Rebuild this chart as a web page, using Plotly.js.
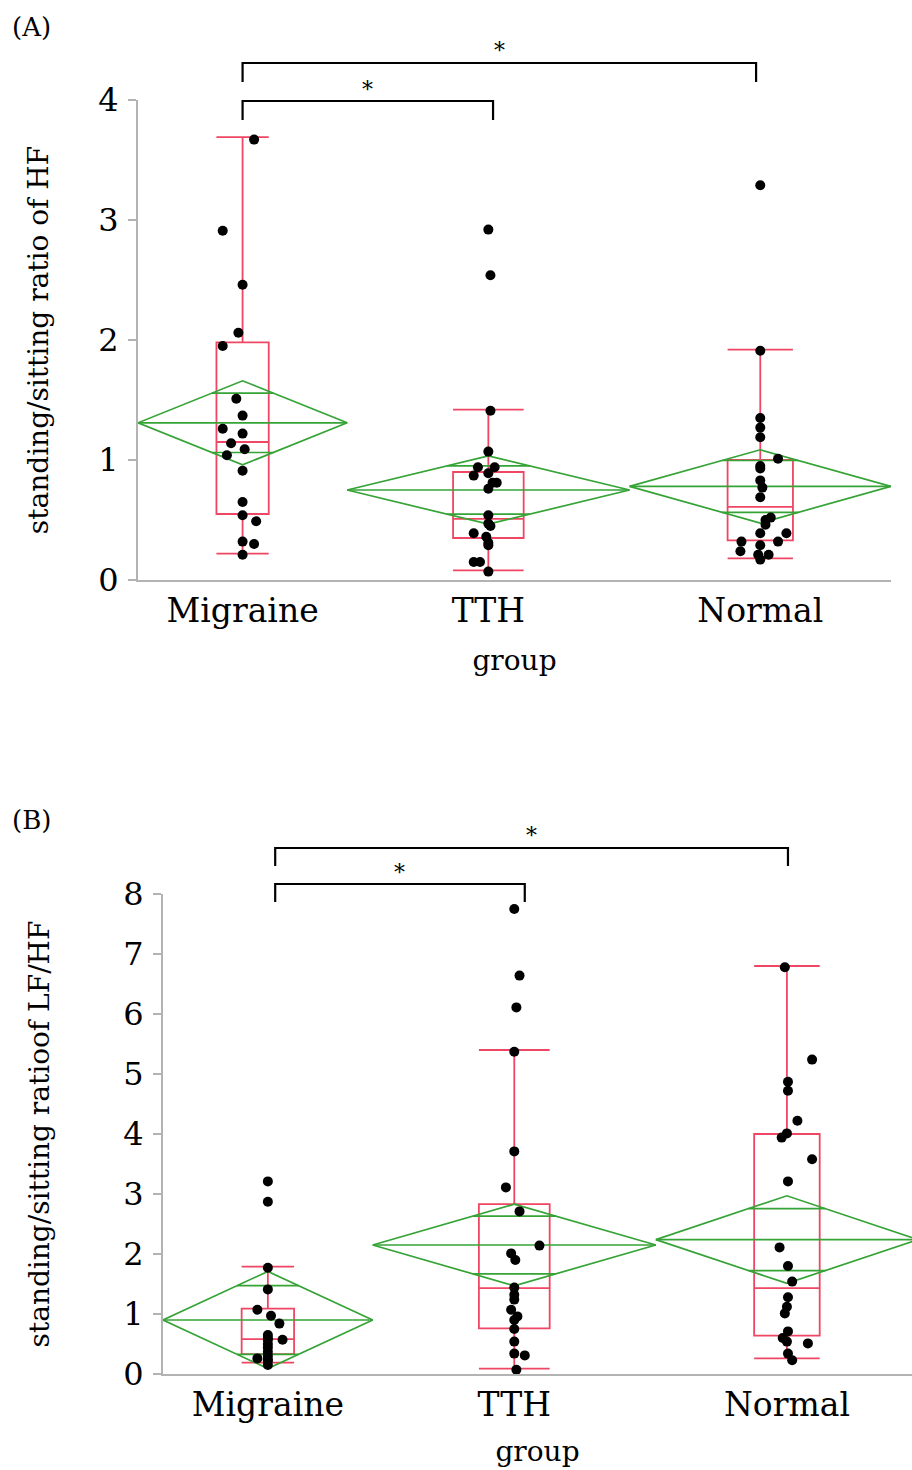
<!DOCTYPE html>
<html>
<head>
<meta charset="utf-8">
<script src="https://cdn.plot.ly/plotly-3.0.1.min.js"></script>
<style>html,body{margin:0;padding:0;background:#fff}</style>
</head>
<body>
<div id="chart" style="width:912px;height:1470px"></div>
<script>
// ---------- data ----------
const groups = ['Migraine', 'TTH', 'Normal'];
const groupN = [20, 27, 25];               // group sizes (set the JMP-style group widths)

// (A) standing/sitting ratio of HF
const hfMigraine    = [3.67, 2.91, 2.46, 2.06, 1.95, 1.51, 1.37, 1.26, 1.22, 1.14, 1.09, 1.04, 0.91, 0.65, 0.54, 0.49, 0.32, 0.30, 0.21];
const hfMigraineJit = [1.1, -1.9, 0, -0.4, -1.9, -0.6, 0, -1.9, 0, -1.1, 0.2, -1.5, 0, 0, 0, 1.3, 0, 1.1, 0];
const hfTTH         = [2.92, 2.54, 1.41, 1.07, 0.94, 0.94, 0.87, 0.89, 0.81, 0.81, 0.76, 0.54, 0.47, 0.45, 0.39, 0.36, 0.31, 0.29, 0.15, 0.15, 0.07];
const hfTTHJit      = [0, 0.2, 0.2, 0, -1, 0.6, -1.4, 0, 0.4, 0.8, 0, 0, 0, 0.2, -1.4, -0.2, 0, 0, -1.4, -0.8, 0];
const hfNormal      = [3.29, 1.91, 1.35, 1.27, 1.19, 1.01, 0.95, 0.93, 0.83, 0.77, 0.69, 0.52, 0.50, 0.46, 0.39, 0.39, 0.32, 0.32, 0.29, 0.24, 0.21, 0.21, 0.17];
const hfNormalJit   = [0, 0, 0, 0, 0, 1.7, 0, 0, 0, 0.2, 0, 1, 0.5, 0.5, 0, 2.5, -1.8, 1.7, 0, -1.9, -0.2, 0.8, 0];
const hfMean   = [1.31, 0.75, 0.78];
const hfCIHalf = [0.35, 0.285, 0.305];
const hfQ1     = [0.55, 0.35, 0.33];
const hfMedian = [1.15, 0.51, 0.61];
const hfQ3     = [1.98, 0.90, 1.00];
const hfLow    = [0.22, 0.08, 0.18];
const hfHigh   = [3.69, 1.42, 1.92];

// (B) standing/sitting ratio of LF/HF
const lfMigraine    = [3.21, 2.87, 1.77, 1.41, 1.07, 0.97, 0.84, 0.65, 0.60, 0.57, 0.57, 0.50, 0.44, 0.37, 0.30, 0.26, 0.24, 0.22, 0.15];
const lfMigraineJit = [0, 0, 0, 0, -1, 0.3, 1.1, 0, 0, 1.4, 0, 0, 0, 0, 0, -1, 0, 0, 0];
const lfTTH         = [7.75, 6.64, 6.11, 5.37, 3.71, 3.11, 2.71, 2.14, 2.01, 1.90, 1.44, 1.32, 1.24, 1.07, 0.96, 0.90, 0.75, 0.54, 0.34, 0.31, 0.07];
const lfTTHJit      = [0, 0.5, 0.2, 0, 0, -0.8, 0.5, 2.4, -0.3, 0.1, 0, 0, 0, -0.3, 0.3, 0, 0, 0, 0, 1, 0.2];
const lfNormal      = [6.78, 5.24, 4.87, 4.72, 4.22, 4.01, 3.94, 3.58, 3.21, 2.11, 1.80, 1.54, 1.28, 1.12, 1.01, 0.71, 0.60, 0.54, 0.51, 0.34, 0.23];
const lfNormalJit   = [-0.2, 2.4, 0.1, 0.1, 1, 0, -0.5, 2.4, 0.1, -0.7, 0.1, 0.5, 0.1, 0, -0.2, 0.1, -0.4, 0, 2, 0.1, 0.5];
const lfMean   = [0.90, 2.15, 2.24];
const lfCIHalf = [0.81, 0.68, 0.73];
const lfQ1     = [0.33, 0.76, 0.64];
const lfMedian = [0.58, 1.43, 1.43];
const lfQ3     = [1.09, 2.83, 4.00];
const lfLow    = [0.19, 0.09, 0.26];
const lfHigh   = [1.79, 5.40, 6.80];

const yTicksA = [0, 1, 2, 3, 4];
const yTicksB = [0, 1, 2, 3, 4, 5, 6, 7, 8];

// ---------- geometry from group sizes ----------
const lefts = [], centers = [];
let cum = 0;
groupN.forEach(n => { lefts.push(cum); centers.push(cum + n / 2); cum += n; });
const total = cum;

const RED = '#ef4763';
const GREEN = '#35a335';
const AXIS = '#b3b3b3';

function diamondTrace(means, ci, xa, ya) {
  const dx = [], dy = [];
  means.forEach((m, i) => {
    const L = lefts[i], R = lefts[i] + groupN[i], C = centers[i], h = ci[i];
    dx.push(L, C, R, C, L, null); dy.push(m, m + h, m, m - h, m, null);
    dx.push(L, R, null); dy.push(m, m, null);
    const o = h / Math.SQRT2, hw = groupN[i] / 2 * (1 - 1 / Math.SQRT2);
    dx.push(C - hw, C + hw, null); dy.push(m + o, m + o, null);
    dx.push(C - hw, C + hw, null); dy.push(m - o, m - o, null);
  });
  return {type: 'scatter', mode: 'lines', x: dx, y: dy, xaxis: xa, yaxis: ya,
          line: {color: GREEN, width: 1.7}, hoverinfo: 'skip', connectgaps: false};
}

function boxTraces(q1, med, q3, lo, hi, xa, ya) {
  return groups.map((g, i) => ({
    type: 'box', name: g, x: [centers[i]], q1: [q1[i]], median: [med[i]], q3: [q3[i]],
    lowerfence: [lo[i]], upperfence: [hi[i]], width: groupN[i] * 0.25, whiskerwidth: 1,
    line: {color: RED, width: 1.8}, fillcolor: 'rgba(0,0,0,0)', boxpoints: false,
    xaxis: xa, yaxis: ya, hoverinfo: 'skip'
  }));
}

function pointTrace(vals, jit, gi, xa, ya) {
  return {type: 'scatter', mode: 'markers', name: groups[gi],
          x: vals.map((v, k) => centers[gi] + jit[k]), y: vals,
          marker: {color: '#000', size: 10}, xaxis: xa, yaxis: ya, cliponaxis: false};
}

const data = [
  ...boxTraces(hfQ1, hfMedian, hfQ3, hfLow, hfHigh, 'x', 'y'),
  diamondTrace(hfMean, hfCIHalf, 'x', 'y'),
  pointTrace(hfMigraine, hfMigraineJit, 0, 'x', 'y'),
  pointTrace(hfTTH, hfTTHJit, 1, 'x', 'y'),
  pointTrace(hfNormal, hfNormalJit, 2, 'x', 'y'),
  ...boxTraces(lfQ1, lfMedian, lfQ3, lfLow, lfHigh, 'x2', 'y2'),
  diamondTrace(lfMean, lfCIHalf, 'x2', 'y2'),
  pointTrace(lfMigraine, lfMigraineJit, 0, 'x2', 'y2'),
  pointTrace(lfTTH, lfTTHJit, 1, 'x2', 'y2'),
  pointTrace(lfNormal, lfNormalJit, 2, 'x2', 'y2')
];

// ---------- layout ----------
const H = 1470, W = 912;
const py = p => (H - p) / H;   // pixel row -> paper y
const FONT = 'DejaVu Serif';

function xAxis(domain, range, anchor, labelGap, titleGap) {
  return {domain, range, anchor, tickvals: centers, ticktext: groups, showgrid: false, zeroline: false,
          showline: true, linecolor: AXIS, linewidth: 2, ticks: '', ticklabelstandoff: labelGap,
          tickfont: {family: FONT, size: 33, color: '#000'},
          title: {text: 'group', font: {family: FONT, size: 28, color: '#000'}, standoff: titleGap}};
}
function yAxis(domain, range, ticks, anchor, title, titleGap) {
  return {domain, range, anchor, tickvals: ticks, showgrid: false, zeroline: false,
          showline: true, linecolor: AXIS, linewidth: 2, ticks: 'outside', ticklen: 8,
          tickcolor: AXIS, tickwidth: 1.5, ticklabelstandoff: 3,
          tickfont: {family: FONT, size: 32, color: '#000'},
          title: {text: title, font: {family: FONT, size: 28, color: '#000'}, standoff: titleGap}};
}

function bracket(xref, xa, xb, yTopPx, yBotPx) {
  return {type: 'path', xref, yref: 'paper',
          path: `M ${xa},${py(yBotPx)} L ${xa},${py(yTopPx)} L ${xb},${py(yTopPx)} L ${xb},${py(yBotPx)}`,
          line: {color: '#000', width: 2.2}};
}

const layout = {
  width: W, height: H,
  margin: {l: 0, r: 0, t: 0, b: 0},
  paper_bgcolor: '#fff', plot_bgcolor: '#fff',
  showlegend: false,
  font: {family: FONT, color: '#000'},
  boxmode: 'overlay',
  xaxis: xAxis([138 / W, 891 / W], [0, total], 'y', 0, 22),
  yaxis: yAxis([py(580), py(100)], [0, 4], yTicksA, 'x', 'standing/sitting ratio of HF', 41),
  xaxis2: xAxis([163 / W, 1], [0, total * (912 - 163) / (918 - 163)], 'y2', 0, 19),
  yaxis2: yAxis([py(1374), py(894)], [0, 8], yTicksB, 'x2', 'standing/sitting ratioof LF/HF', 65),
  shapes: [
    bracket('x', centers[0], centers[2] - 0.4, 63, 82),
    bracket('x', centers[0], centers[1] + 0.45, 101, 120),
    bracket('x2', centers[0] + 0.7, centers[2] + 0.1, 848, 866),
    bracket('x2', centers[0] + 0.7, centers[1] + 1.0, 884, 902)
  ],
  annotations: [
    {text: '(A)', xref: 'paper', yref: 'paper', x: 10 / W, y: py(27), xanchor: 'left', yanchor: 'middle',
     showarrow: false, font: {family: FONT, size: 26}},
    {text: '(B)', xref: 'paper', yref: 'paper', x: 10 / W, y: py(820), xanchor: 'left', yanchor: 'middle',
     showarrow: false, font: {family: FONT, size: 26}},
    {text: '*', xref: 'x', yref: 'paper', x: (centers[0] + centers[2] - 0.4) / 2, y: py(51), xanchor: 'center', yanchor: 'middle',
     showarrow: false, font: {family: FONT, size: 22}},
    {text: '*', xref: 'x', yref: 'paper', x: (centers[0] + centers[1] + 0.45) / 2, y: py(90), xanchor: 'center', yanchor: 'middle',
     showarrow: false, font: {family: FONT, size: 22}},
    {text: '*', xref: 'x2', yref: 'paper', x: (centers[0] + 0.7 + centers[2] + 0.1) / 2, y: py(835), xanchor: 'center', yanchor: 'middle',
     showarrow: false, font: {family: FONT, size: 22}},
    {text: '*', xref: 'x2', yref: 'paper', x: (centers[0] + 0.7 + centers[1] + 1.0) / 2, y: py(872), xanchor: 'center', yanchor: 'middle',
     showarrow: false, font: {family: FONT, size: 22}}
  ]
};

Plotly.newPlot('chart', data, layout, {displayModeBar: false, staticPlot: true});
</script>
</body>
</html>
